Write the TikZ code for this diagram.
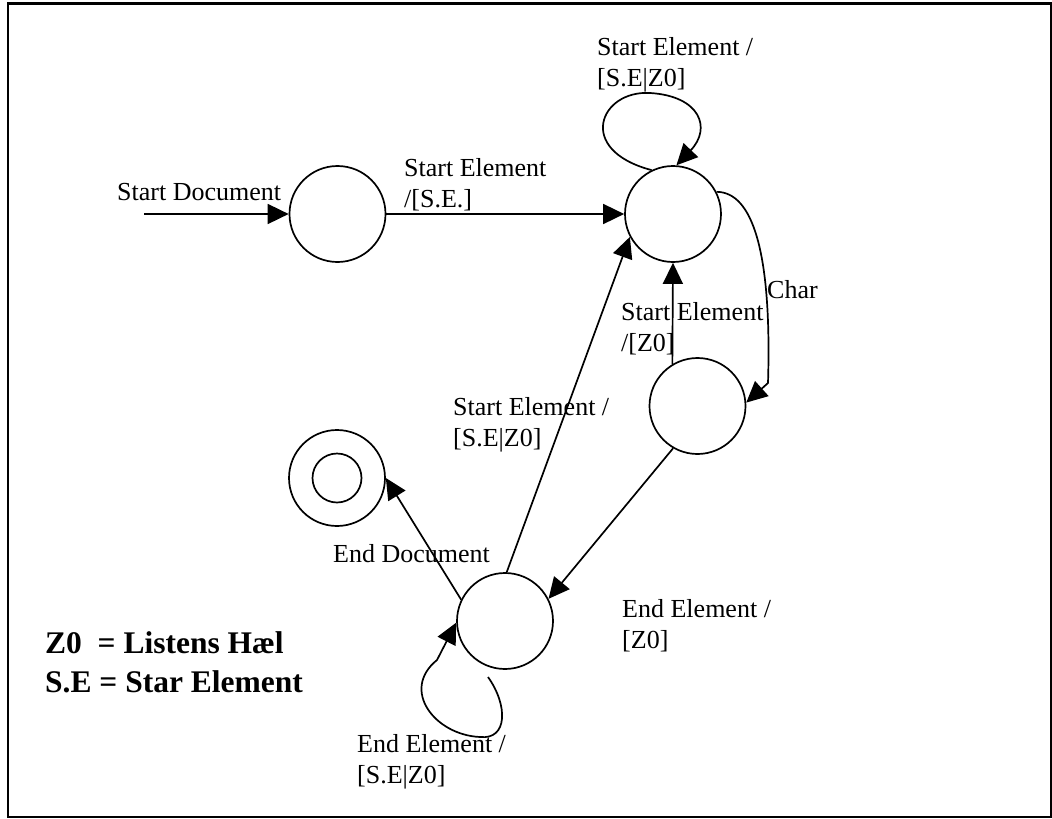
\documentclass[tikz,border=0pt]{standalone}
\usepackage{fontspec}
\setmainfont{Liberation Serif}
\usetikzlibrary{arrows.meta}
\begin{document}
\begin{tikzpicture}[x=1pt,y=-1pt,
  state/.style={circle,draw,line width=1.7pt,minimum size=96pt,inner sep=0pt},
  arr/.style={line width=1.7pt,-{Triangle[length=21pt,width=20pt]}},
  lbl/.style={anchor=base west,inner sep=0pt,align=left,font=\fontsize{26}{31}\selectfont},
  legend/.style={anchor=base west,inner sep=0pt,align=left,font=\bfseries\fontsize{31.5}{39}\selectfont}]
\useasboundingbox (0,0) rectangle (1052,819);
% frame
\draw[line width=2.5pt] (8,3.5) rectangle (1051,817);

% states
\node[state] (c1) at (337.5,214) {};
\node[state] (c2) at (673,214) {};
\node[state] (c3) at (697.5,406) {};
\node[state] (c4) at (505,621) {};
\node[state] (f) at (337,478) {};
\draw[line width=1.7pt] (f.center) circle (24.5);

% free ends
\coordinate (s0) at (144,214);
\coordinate (charbend) at (768,383);
\coordinate (l4s) at (488,677);

% transitions
\draw[arr] (s0) -- (c1);
\draw[arr] (c1) -- (c2);
\draw[arr] (c2.116) .. controls (575,150) and (600,90) .. (650,93)
                    .. controls (700,96) and (712,128) .. (c2.86);
\draw[arr] (c2.27) .. controls (752,192) and (772,250) .. (charbend) -- (c3.4);
\draw[arr] (c3.121) -- (c2.south);
\draw[arr] (c3.240) -- (c4.27);
\draw[arr] (c4.88) -- (c2.208);
\draw[arr] (c4.154) -- (f.east);
\draw[arr] (l4s) .. controls (508,705) and (508,740) .. (480,737)
                 .. controls (435,735) and (400,690) .. (437,660) -- (c4.182);

% labels (base anchor sits on the last line)
\node[lbl] (t1) at (117,200) {Start Document};
\node[lbl] (t2) at (404,207) {Start Element\\/[S.E.]};
\node[lbl] (t3) at (597,86) {Start Element /\\{[}S.E|Z0]};
\node[lbl] (t4) at (767,298) {Char};
\node[lbl] (t5) at (621,351) {Start Element\\/[Z0]};
\node[lbl] (t6) at (622,648) {End Element /\\{[}Z0]};
\node[lbl] (t7) at (453,446) {Start Element /\\{[}S.E|Z0]};
\node[lbl] (t8) at (333,562) {End Document};
\node[lbl] (t9) at (357,783) {End Element /\\{[}S.E|Z0]};

% legend
\node[legend] (key) at (45,692) {Z0\ \ = Listens Hæl\\S.E = Star Element};
\end{tikzpicture}
\end{document}
